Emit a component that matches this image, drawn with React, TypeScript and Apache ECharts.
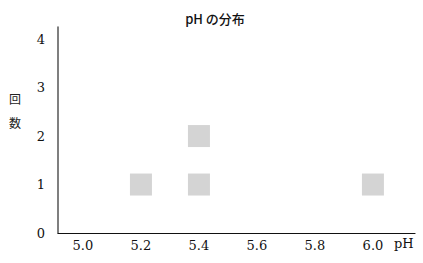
import React, { useEffect, useRef } from "react";
import * as echarts from "echarts";

const title = "pH の分布";
const yName = ["回", "数"];
const xName = "pH";
const xTicks = [5.0, 5.2, 5.4, 5.6, 5.8, 6.0];
const yTicks = [0, 1, 2, 3, 4];
// each square: [pH, count level]
const points: [number, number][] = [
  [5.2, 1],
  [5.4, 1],
  [5.4, 2],
  [6.0, 1],
];

export default function App() {
  const ref = useRef<HTMLDivElement>(null);
  useEffect(() => {
    const chart = echarts.init(ref.current!, null, { renderer: "svg" });
    const serif = "DejaVu Serif";
    chart.setOption({
      animation: false,
      backgroundColor: "#ffffff",
      title: {
        text: title,
        left: 210,
        textAlign: "center",
        top: 7,
        textStyle: {
          fontSize: 13,
          fontWeight: 500,
          color: "#111",
          fontFamily: "Noto Sans CJK JP",
        },
      },
      grid: { left: 58, right: 8, top: 27, bottom: 30 },
      xAxis: {
        type: "value",
        min: 4.914,
        max: 6.145,
        axisLine: { lineStyle: { color: "#111", width: 1.2 } },
        axisTick: { show: false },
        splitLine: { show: false },
        axisLabel: {
          customValues: xTicks,
          formatter: (v: number) => v.toFixed(1),
          color: "#111",
          fontSize: 13,
          fontFamily: serif,
          margin: 6,
        },
      },
      yAxis: {
        type: "value",
        min: 0,
        max: 4.25,
        axisLine: { show: true, lineStyle: { color: "#555", width: 1.5 } },
        axisTick: { show: false },
        splitLine: { show: false },
        axisLabel: {
          customValues: yTicks,
          color: "#111",
          fontSize: 13,
          fontFamily: serif,
          margin: 13,
        },
      },
      graphic: [
        {
          type: "text",
          left: 9,
          top: 92,
          style: {
            text: yName.join("\n\n"),
            fontSize: 12,
            lineHeight: 12,
            fill: "#222",
            fontFamily: "Noto Sans CJK JP",
          },
        },
        {
          type: "text",
          left: 394,
          top: 237,
          style: {
            text: xName,
            fontSize: 13,
            fill: "#111",
            fontFamily: serif,
          },
        },
      ],
      series: [
        {
          type: "scatter",
          symbol: "rect",
          symbolSize: [22, 22],
          data: points,
          itemStyle: {
            color: "#c9c9c9",
          },
        },
      ],
    });
    return () => chart.dispose();
  }, []);
  return <div ref={ref} style={{ width: 423, height: 263, position: "absolute", left: 0, top: 0 }} />;
}
